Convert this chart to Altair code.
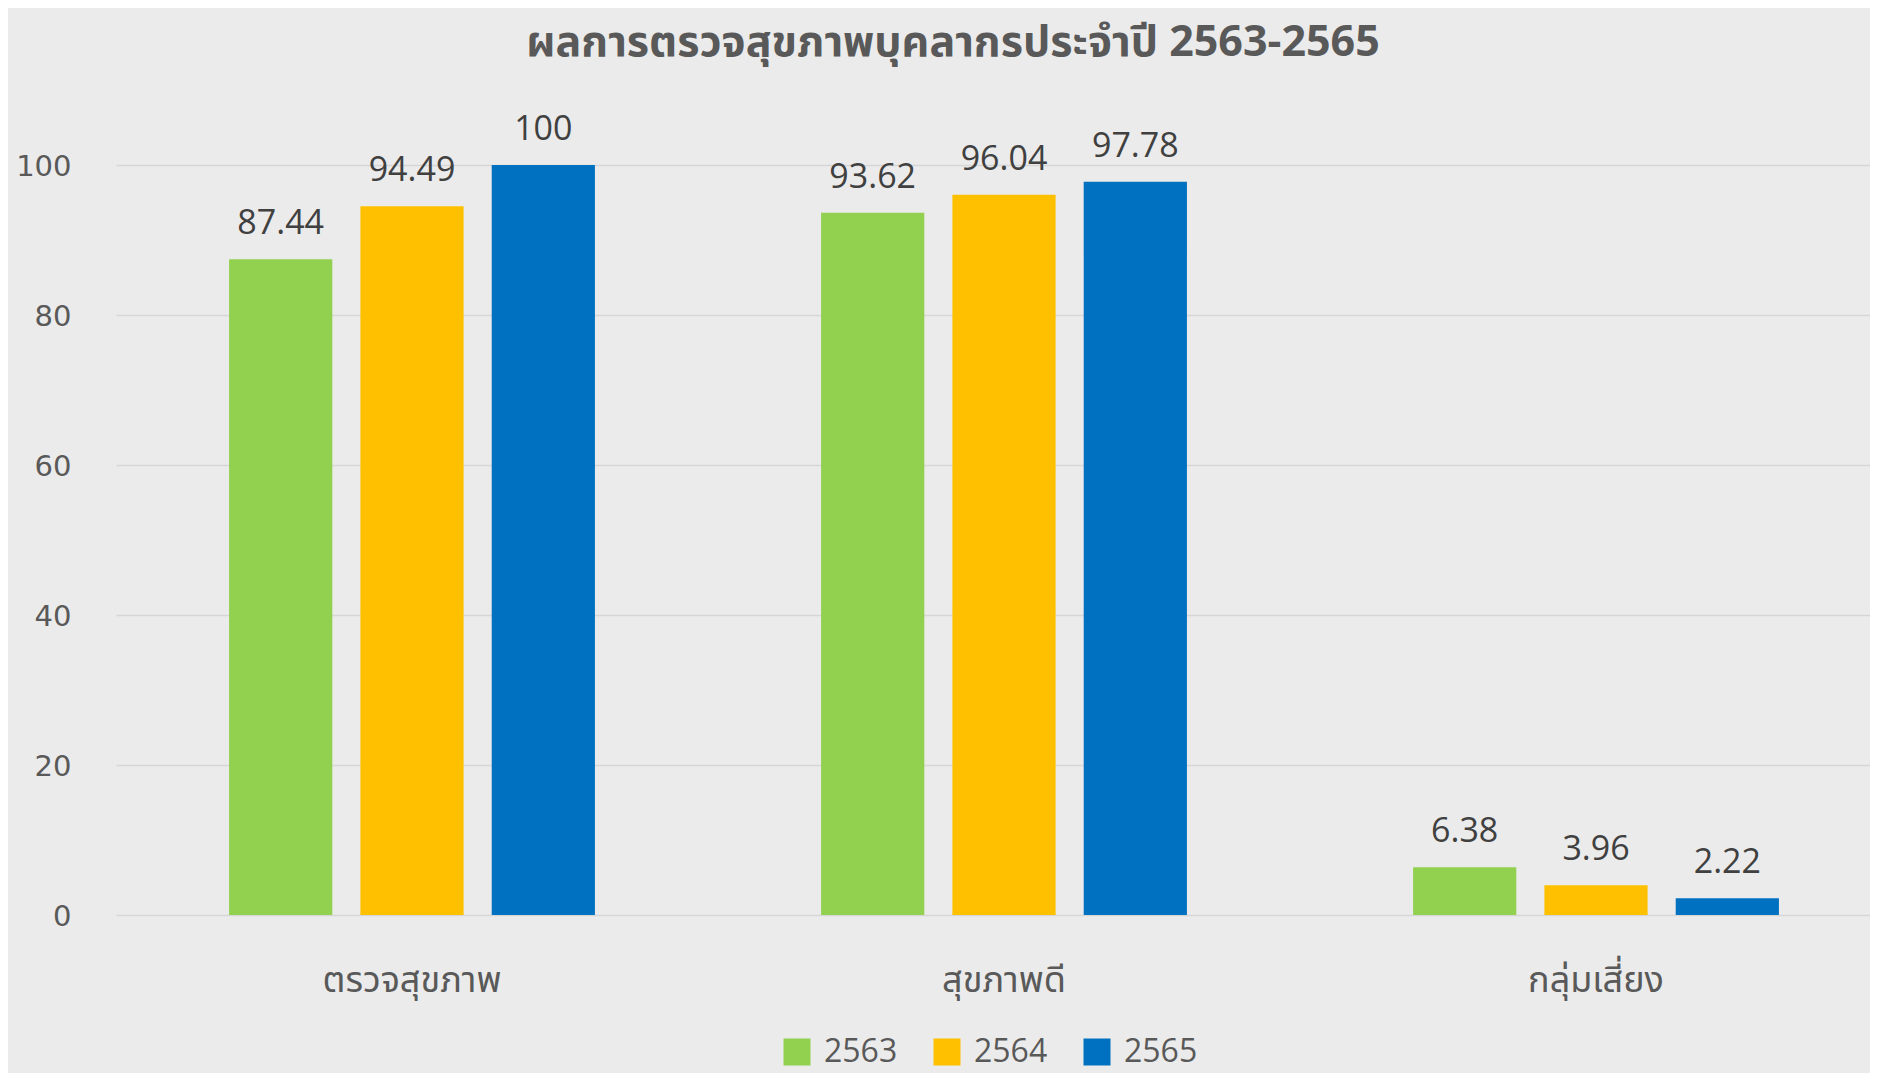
import altair as alt
import pandas as pd

categories = ["ตรวจสุขภาพ", "สุขภาพดี", "กลุ่มเสี่ยง"]
years = ["2563", "2564", "2565"]
values_2563 = [87.44, 93.62, 6.38]
values_2564 = [94.49, 96.04, 3.96]
values_2565 = [100, 97.78, 2.22]
colors = ["#92D050", "#FFC000", "#0070C0"]

rows = []
for yr, vals in zip(years, [values_2563, values_2564, values_2565]):
    for c, v in zip(categories, vals):
        rows.append({"category": c, "year": yr, "value": v})
df = pd.DataFrame(rows)

W, H = 1754, 750

x = alt.X("category:N", sort=categories, title=None,
          scale=alt.Scale(paddingInner=0.382, paddingOuter=0.191, range=[0, 1776]),
          axis=alt.Axis(domain=False, ticks=False, labelAngle=0, labelFontSize=36,
                        labelColor="#595959", labelPadding=48,
                        labelFont="Noto Sans Thai, Loma, Garuda, sans-serif", grid=False))
y = alt.Y("value:Q", title=None, scale=alt.Scale(domain=[0, 100], nice=False),
          axis=alt.Axis(values=[0, 20, 40, 60, 80, 100], domain=False, ticks=False,
                        labelFontSize=29, labelColor="#595959", labelPadding=45,
                        labelFont="DejaVu Sans", gridColor="#d6d6d6", gridWidth=1.5,
                        labelOffset=1))
xo = alt.XOffset("year:N", sort=years, scale=alt.Scale(paddingInner=0.214, paddingOuter=0))
color = alt.Color("year:N", sort=years, scale=alt.Scale(domain=years, range=colors),
                  legend=alt.Legend(title=None, orient="none", direction="horizontal",
                                    legendX=665, legendY=871, symbolType="square",
                                    symbolSize=729, symbolStrokeWidth=0, labelFontSize=32,
                                    labelColor="#595959", labelFont="Open Sans",
                                    labelOffset=11, columnPadding=33, symbolOpacity=1))

bars = alt.Chart(df).mark_bar(opacity=1).encode(x=x, y=y, xOffset=xo, color=color)
labels = alt.Chart(df).mark_text(baseline="bottom", dy=-18, fontSize=34, color="#404040",
                                 font="Open Sans").encode(
    x=x, y=y, xOffset=xo, text=alt.Text("value:Q"))

chart = alt.layer(bars, labels).properties(
    width=W, height=H,
    title=alt.TitleParams("ผลการตรวจสุขภาพบุคลากรประจำปี 2563-2565", fontSize=43,
                          fontWeight="bold", color="#595959", anchor="middle",
                          offset=48, dx=-40,
                          font="Noto Sans Thai, Loma, Garuda, sans-serif"),
    padding={"left": 108, "top": 157, "right": 0, "bottom": 158},
    autosize=alt.AutoSizeParams(type="none"),
).configure(background="#ebebeb").configure_view(stroke=None)

chart.save("out.html", embed_options={"renderer": "svg", "actions": False})
